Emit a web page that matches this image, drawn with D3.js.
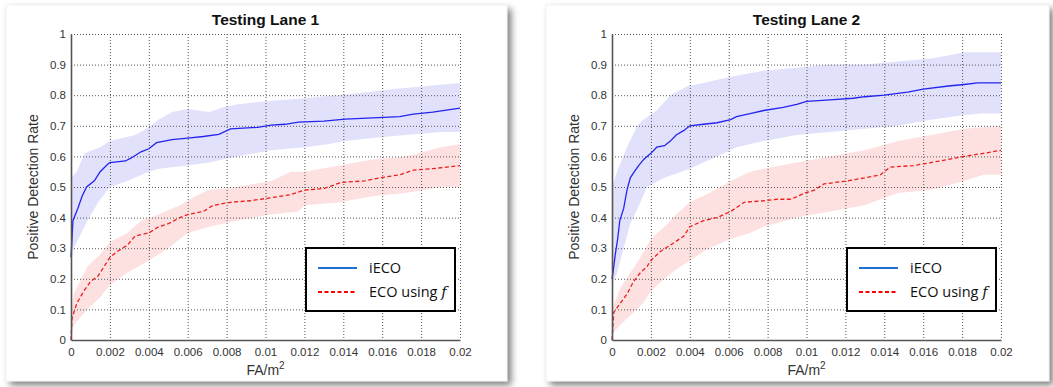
<!DOCTYPE html>
<html><head><meta charset="utf-8">
<script src="https://cdn.jsdelivr.net/npm/d3@7"></script>
<style>
html,body{margin:0;padding:0;background:#fff;}
svg{display:block;}
</style></head>
<body>
<svg id="c" width="1053" height="387"></svg>
<script>
// ---------- DATA ----------
const xTicks = [0,0.002,0.004,0.006,0.008,0.01,0.012,0.014,0.016,0.018,0.02];
const xTickLabels = ["0","0.002","0.004","0.006","0.008","0.01","0.012","0.014","0.016","0.018","0.02"];
const yTicks = [0,0.1,0.2,0.3,0.4,0.5,0.6,0.7,0.8,0.9,1];
const yTickLabels = ["0","0.1","0.2","0.3","0.4","0.5","0.6","0.7","0.8","0.9","1"];
const titles = ["Testing Lane 1","Testing Lane 2"];
const seriesNames = ["iECO","ECO using "];

// Lane 1
const lane1_iECO = [[0,0.27],[0.0001,0.39],[0.00035,0.43],[0.00057,0.47],[0.0008,0.5],[0.0012,0.52],[0.0015,0.55],[0.0019,0.575],[0.002,0.58],[0.0028,0.585],[0.0031,0.595],[0.0036,0.615],[0.004,0.625],[0.0044,0.645],[0.0052,0.655],[0.006,0.66],[0.0068,0.665],[0.0076,0.672],[0.0082,0.69],[0.0096,0.695],[0.0103,0.702],[0.011,0.705],[0.0117,0.712],[0.013,0.715],[0.0141,0.722],[0.0158,0.727],[0.0169,0.73],[0.0176,0.738],[0.0186,0.745],[0.02,0.758]];
const lane1_iECO_hi = [[0,0.53],[0.0003,0.55],[0.0007,0.61],[0.0015,0.63],[0.002,0.65],[0.0033,0.67],[0.004,0.695],[0.0045,0.72],[0.0052,0.745],[0.006,0.755],[0.0071,0.745],[0.0078,0.76],[0.0085,0.77],[0.01,0.78],[0.012,0.79],[0.0138,0.8],[0.0152,0.81],[0.0166,0.82],[0.0183,0.83],[0.02,0.84]];
const lane1_iECO_lo = [[0,0.25],[0.00014,0.3],[0.00084,0.39],[0.0014,0.45],[0.002,0.5],[0.0029,0.52],[0.004,0.55],[0.0045,0.56],[0.006,0.57],[0.0071,0.58],[0.0085,0.6],[0.0103,0.62],[0.012,0.63],[0.0132,0.64],[0.0141,0.65],[0.0155,0.66],[0.0172,0.67],[0.019,0.68],[0.02,0.68]];
const lane1_ECO = [[0,0],[0.00005,0.07],[0.0003,0.12],[0.00066,0.16],[0.001,0.19],[0.0014,0.21],[0.0017,0.24],[0.002,0.27],[0.0024,0.29],[0.0029,0.31],[0.0033,0.34],[0.004,0.35],[0.0045,0.37],[0.005,0.38],[0.0056,0.4],[0.006,0.41],[0.0068,0.42],[0.0073,0.44],[0.0082,0.45],[0.0092,0.455],[0.0103,0.465],[0.0113,0.475],[0.012,0.49],[0.013,0.495],[0.0139,0.515],[0.0151,0.52],[0.0159,0.53],[0.0169,0.54],[0.0176,0.555],[0.0186,0.56],[0.02,0.57]];
const lane1_ECO_hi = [[0,0.08],[0.00014,0.15],[0.00084,0.24],[0.0015,0.28],[0.002,0.32],[0.0029,0.35],[0.0036,0.39],[0.0045,0.41],[0.0056,0.44],[0.0064,0.47],[0.0071,0.49],[0.0085,0.5],[0.0103,0.52],[0.0113,0.55],[0.012,0.55],[0.0138,0.57],[0.0155,0.59],[0.0172,0.6],[0.019,0.63],[0.02,0.64]];
const lane1_ECO_lo = [[0,0],[0.00014,0.05],[0.00084,0.1],[0.0015,0.14],[0.002,0.18],[0.0029,0.22],[0.004,0.26],[0.005,0.3],[0.006,0.35],[0.0071,0.37],[0.0085,0.39],[0.0103,0.41],[0.0117,0.42],[0.012,0.44],[0.0138,0.45],[0.0155,0.47],[0.0172,0.48],[0.019,0.5],[0.02,0.5]];

// Lane 2
const lane2_iECO = [[0,0.2],[0.00005,0.22],[0.00017,0.28],[0.00029,0.33],[0.0004,0.39],[0.0006,0.43],[0.00077,0.49],[0.00094,0.53],[0.00115,0.55],[0.00137,0.57],[0.00163,0.59],[0.002,0.61],[0.0023,0.63],[0.0027,0.635],[0.003,0.65],[0.0033,0.67],[0.0037,0.685],[0.004,0.7],[0.0047,0.705],[0.0054,0.71],[0.0061,0.72],[0.0064,0.73],[0.0071,0.74],[0.0078,0.75],[0.0088,0.76],[0.0095,0.77],[0.01,0.78],[0.0112,0.785],[0.0124,0.79],[0.013,0.795],[0.014,0.8],[0.0152,0.81],[0.016,0.82],[0.0173,0.83],[0.0181,0.835],[0.0188,0.84],[0.02,0.84]];
const lane2_iECO_hi = [[0,0.5],[0.00026,0.55],[0.00077,0.63],[0.0013,0.7],[0.0016,0.72],[0.0023,0.75],[0.003,0.8],[0.0039,0.83],[0.0047,0.84],[0.0061,0.86],[0.0078,0.88],[0.0095,0.89],[0.0112,0.9],[0.013,0.9],[0.0147,0.91],[0.0164,0.92],[0.0173,0.93],[0.0181,0.94],[0.02,0.94]];
const lane2_iECO_lo = [[0,0.18],[0.00026,0.22],[0.0006,0.3],[0.00094,0.38],[0.00146,0.45],[0.0018,0.5],[0.0027,0.53],[0.004,0.56],[0.0054,0.6],[0.0064,0.63],[0.0078,0.65],[0.0095,0.67],[0.0112,0.68],[0.013,0.69],[0.0147,0.7],[0.0155,0.71],[0.0164,0.72],[0.0181,0.735],[0.019,0.74],[0.02,0.74]];
const lane2_ECO = [[0,0],[0.00009,0.09],[0.00043,0.12],[0.00077,0.15],[0.0011,0.19],[0.00146,0.22],[0.0018,0.24],[0.002,0.26],[0.0025,0.29],[0.003,0.31],[0.0037,0.34],[0.004,0.37],[0.0047,0.39],[0.0054,0.4],[0.0061,0.42],[0.0068,0.45],[0.0078,0.455],[0.0085,0.46],[0.0092,0.46],[0.0099,0.48],[0.0104,0.49],[0.0109,0.51],[0.0121,0.52],[0.013,0.53],[0.0138,0.54],[0.0143,0.565],[0.0155,0.57],[0.0164,0.58],[0.0173,0.59],[0.0181,0.6],[0.0191,0.61],[0.02,0.62]];
const lane2_ECO_hi = [[0,0.1],[0.00043,0.17],[0.00094,0.22],[0.00146,0.27],[0.002,0.33],[0.0027,0.37],[0.0033,0.41],[0.004,0.45],[0.005,0.48],[0.0061,0.52],[0.0071,0.55],[0.0078,0.56],[0.0095,0.58],[0.0112,0.6],[0.013,0.62],[0.0147,0.65],[0.0164,0.67],[0.0181,0.69],[0.02,0.7]];
const lane2_ECO_lo = [[0,0.02],[0.00043,0.05],[0.00094,0.08],[0.0016,0.12],[0.002,0.16],[0.0027,0.2],[0.0033,0.23],[0.004,0.26],[0.005,0.3],[0.0061,0.33],[0.0071,0.35],[0.0078,0.37],[0.0095,0.4],[0.0112,0.42],[0.013,0.44],[0.0138,0.46],[0.0147,0.48],[0.0164,0.49],[0.0181,0.52],[0.0191,0.54],[0.02,0.54]];

// ---------- LAYOUT ----------
const panels = [
  {card:[6,5,501,376], plot:[71,34,460,340], legend:[306,248,455,311], title:titles[0],
   blue:lane1_iECO, blueHi:lane1_iECO_hi, blueLo:lane1_iECO_lo, red:lane1_ECO, redHi:lane1_ECO_hi, redLo:lane1_ECO_lo},
  {card:[546,5,503,376], plot:[612,34,1001,340], legend:[847,248,996,311], title:titles[1],
   blue:lane2_iECO, blueHi:lane2_iECO_hi, blueLo:lane2_iECO_lo, red:lane2_ECO, redHi:lane2_ECO_hi, redLo:lane2_ECO_lo}
];

const svg = d3.select("#c");
const defs = svg.append("defs");
const f = defs.append("filter").attr("id","sh").attr("x","-5%").attr("y","-5%").attr("width","115%").attr("height","115%");
f.append("feDropShadow").attr("dx",4).attr("dy",4).attr("stdDeviation",3.5).attr("flood-color","#000").attr("flood-opacity",0.5);

const font = "'Liberation Sans', Arial, sans-serif";

panels.forEach((p,i)=>{
  const [cx,cy,cw,ch] = p.card;
  svg.append("rect").attr("x",cx).attr("y",cy).attr("width",cw).attr("height",ch)
    .attr("fill","#fff").attr("stroke","#e6e6e6").attr("stroke-width",0.6).attr("filter","url(#sh)");

  const [x0,y0,x1,y1] = p.plot;
  const x = d3.scaleLinear().domain([0,0.02]).range([x0,x1]);
  const y = d3.scaleLinear().domain([0,1]).range([y1,y0]);
  const g = svg.append("g");

  const clipId = "clip"+i;
  defs.append("clipPath").attr("id",clipId).append("rect").attr("x",x0).attr("y",y0).attr("width",x1-x0).attr("height",y1-y0);

  // bands
  const poly = d3.line().x(d=>x(d[0])).y(d=>y(d[1]));
  const band = (hi,lo,color)=>{
    const pts = hi.concat(lo.slice().reverse());
    g.append("path").attr("d",poly(pts)+"Z").attr("fill",color).attr("stroke","none").attr("clip-path",`url(#${clipId})`);
  };
  band(p.blueHi,p.blueLo,"#e1e1fb");
  band(p.redHi,p.redLo,"#fde1e1");

  // grid
  const grid = g.append("g").attr("stroke","#555").attr("stroke-width",1).attr("stroke-dasharray","1,2");
  xTicks.forEach(t=>{ if(t>0) grid.append("line").attr("x1",x(t)+0.5).attr("x2",x(t)+0.5).attr("y1",y0).attr("y2",y1); });
  yTicks.forEach(t=>{ if(t>0) grid.append("line").attr("x1",x0).attr("x2",x1).attr("y1",y(t)+0.5).attr("y2",y(t)+0.5); });

  // lines
  const ln = d3.line().x(d=>x(d[0])).y(d=>y(d[1]));
  g.append("path").attr("d",ln(p.blue)).attr("fill","none").attr("stroke","#2424ee").attr("stroke-width",1.3);
  g.append("path").attr("d",ln(p.red)).attr("fill","none").attr("stroke","#ee1c1c").attr("stroke-width",1.3).attr("stroke-dasharray","4,2.5");

  // axes
  const xa = d3.axisBottom(x).tickValues(xTicks).tickFormat((d,k)=>xTickLabels[k]).tickSize(0).tickPadding(8);
  const ya = d3.axisLeft(y).tickValues(yTicks).tickFormat((d,k)=>yTickLabels[k]).tickSize(0).tickPadding(5);
  const gx = g.append("g").attr("transform",`translate(0,${y1})`).call(xa);
  const gy = g.append("g").attr("transform",`translate(${x0},0)`).call(ya);
  [gx,gy].forEach(a=>{
    a.select(".domain").attr("stroke","#555").attr("stroke-width",1.6);
    a.selectAll("text").attr("fill","#333").style("font-family",font).style("font-size","11.5px");
  });

  // titles
  g.append("text").attr("x",(x0+x1)/2).attr("y",25).attr("text-anchor","middle")
    .style("font-family",font).style("font-size","15.5px").style("font-weight","bold").attr("fill","#111").text(p.title);
  g.append("text").attr("transform",`translate(${x0-33},${(y0+y1)/2}) rotate(-90)`).attr("text-anchor","middle")
    .style("font-family",font).style("font-size","14px").attr("fill","#333").text("Positive Detection Rate");
  const xl = g.append("text").attr("x",(x0+x1)/2).attr("y",375).attr("text-anchor","middle")
    .style("font-family",font).style("font-size","14px").attr("fill","#333");
  xl.append("tspan").text("FA/m");
  xl.append("tspan").attr("dy",-6).style("font-size","10px").text("2");

  // legend
  const [lx0,ly0,lx1,ly1] = p.legend;
  const lg = g.append("g");
  lg.append("rect").attr("x",lx0).attr("y",ly0).attr("width",lx1-lx0).attr("height",ly1-ly0)
    .attr("fill","#fff").attr("stroke","#000").attr("stroke-width",2);
  const rows = [{name:seriesNames[0], color:"#1f6fd0", dash:null, yy:ly0+20},
                {name:seriesNames[1], color:"#ff0000", dash:"4,2.5", yy:ly0+44}];
  rows.forEach((r,k)=>{
    lg.append("line").attr("x1",lx0+12).attr("x2",lx0+51).attr("y1",r.yy).attr("y2",r.yy)
      .attr("stroke",r.color).attr("stroke-width",2).attr("stroke-dasharray",r.dash);
    const t = lg.append("text").attr("x",lx0+63).attr("y",r.yy+5)
      .style("font-family","'Open Sans', 'Liberation Sans', sans-serif").style("font-size","14.5px").attr("fill","#111").text(r.name);
    if(k===1) t.append("tspan").style("font-family","'DejaVu Serif', serif").style("font-style","italic").text("f");
  });
});
</script>
</body></html>
